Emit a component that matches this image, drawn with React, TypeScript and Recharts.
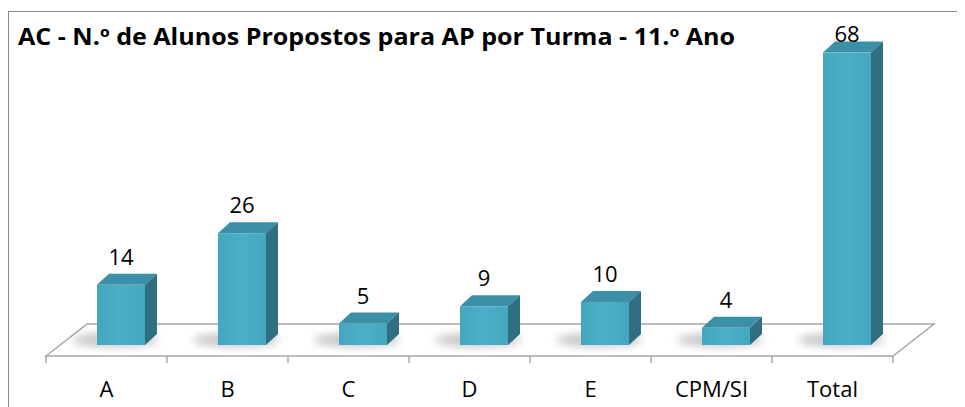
import React from "react"
import { BarChart, Bar, XAxis, YAxis, LabelList, Customized } from "recharts"

const categories = ["A", "B", "C", "D", "E", "CPM/SI", "Total"]
const alunos = [14, 26, 5, 9, 10, 4, 68]
const yMax = 70

const data = categories.map((turma, i) => ({ turma, alunos: alunos[i] }))

const W = 957
const H = 399
const M = { top: 36, right: 72, bottom: 22, left: 38 }
const AXIS_H = 40
const PLOT_W = W - M.left - M.right
const PLOT_H = H - M.top - M.bottom - AXIS_H
const HALF_BAND = PLOT_W / categories.length / 2

// faux 3d
const FACE_SHIFT = 14
const DX = 12
const DY = 11
const FLOOR_DX = 41
const FLOOR_DY = 32
const FLOOR_FRONT = 11

const FONT = "'Open Sans', 'Noto Sans', sans-serif"

function Floor() {
  const base = M.top + PLOT_H
  const fy = base + FLOOR_FRONT
  const by = fy - FLOOR_DY
  const x0 = M.left
  const x1 = M.left + PLOT_W
  return (
    <g>
      <rect x={0.5} y={3.5} width={1200} height={1200} fill="none" stroke="#878787" />
      <text
        x={10}
        y={37}
        fontFamily={FONT}
        fontWeight="bold"
        fontSize={23}
        fill="#000"
        textLength={717}
        lengthAdjust="spacingAndGlyphs"
      >
        AC - N.º de Alunos Propostos para AP por Turma - 11.º Ano
      </text>
      <polygon
        points={`${x0},${fy} ${x0 + FLOOR_DX},${by} ${x1 + FLOOR_DX},${by} ${x1},${fy}`}
        fill="#fff"
        stroke="#a6a6a6"
        strokeWidth={1.5}
      />
    </g>
  )
}

function Bar3D(props: any) {
  const { x, y, width, height } = props
  const fx = x + FACE_SHIFT
  const by = y + height
  const r = fx + width
  return (
    <g>
      <ellipse cx={fx + width / 2 - 6} cy={by - 5} rx={width * 0.9} ry={7} fill="#000" opacity={0.22} filter="url(#blur)" />
      <polygon points={`${fx},${y} ${fx + DX},${y - DY} ${r + DX},${y - DY} ${r},${y}`} fill="#3b8fa6" />
      <polygon points={`${r},${y} ${r + DX},${y - DY} ${r + DX},${by - DY} ${r},${by}`} fill="#2f6f81" />
      <rect x={fx} y={y} width={width} height={height} fill="url(#face)" />
    </g>
  )
}

function ValueLabel(props: any) {
  const { x, y, width, value } = props
  // like excel, keep the label from leaving the plot area
  const ly = Math.max(y - DY - 9, M.top - 2)
  return (
    <text x={x + FACE_SHIFT + width / 2} y={ly} textAnchor="middle" fontFamily={FONT} fontSize={22} fill="#000">
      {value}
    </text>
  )
}

function Tick(props: any) {
  const { x, y, payload, index } = props
  const fy = y + FLOOR_FRONT
  return (
    <g>
      <line x1={x - HALF_BAND} x2={x - HALF_BAND} y1={fy} y2={fy + 7} stroke="#a6a6a6" strokeWidth={1.5} />
      {index === categories.length - 1 && (
        <line x1={x + HALF_BAND} x2={x + HALF_BAND} y1={fy} y2={fy + 7} stroke="#a6a6a6" strokeWidth={1.5} />
      )}
      <text x={x} y={y + 52} textAnchor="middle" fontFamily={FONT} fontSize={22} fill="#000">
        {payload.value}
      </text>
    </g>
  )
}

export default function App() {
  return (
    <BarChart width={W} height={H} data={data} margin={M} barCategoryGap={0}>
      <defs>
        <linearGradient id="face" x1="0" y1="0" x2="1" y2="0">
          <stop offset="0" stopColor="#45a6bf" />
          <stop offset="0.5" stopColor="#4daec8" />
          <stop offset="1" stopColor="#45a6bf" />
        </linearGradient>
        <filter id="blur" x="-50%" y="-50%" width="200%" height="200%">
          <feGaussianBlur stdDeviation="4" />
        </filter>
      </defs>
      <Customized component={<Floor />} />
      <XAxis
        dataKey="turma"
        height={AXIS_H}
        axisLine={false}
        tickLine={false}
        tickSize={0}
        tickMargin={0}
        interval={0}
        tick={<Tick />}
      />
      <YAxis hide domain={[0, yMax]} />
      <Bar dataKey="alunos" barSize={48} shape={<Bar3D />} isAnimationActive={false}>
        <LabelList dataKey="alunos" content={<ValueLabel />} />
      </Bar>
    </BarChart>
  )
}
